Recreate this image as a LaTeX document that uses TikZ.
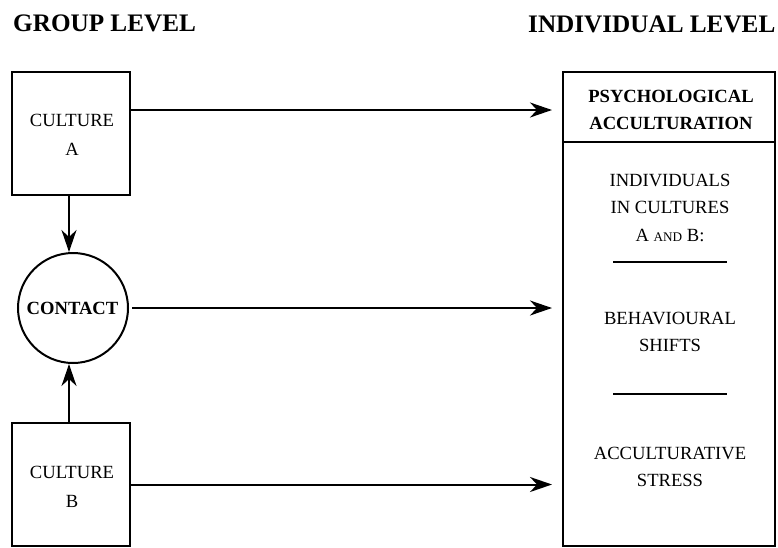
\documentclass[tikz,border=0pt]{standalone}
\usepackage{fontspec}
\setmainfont{Liberation Serif}
\usetikzlibrary{arrows.meta}
\begin{document}
\begin{tikzpicture}[x=1pt,y=-1pt,
  box/.style={draw,line width=2pt,inner sep=0pt},
  lbl/.style={align=center,inner sep=0pt,font=\fontsize{18.6}{29}\selectfont},
  blbl/.style={align=center,inner sep=0pt,font=\bfseries\fontsize{18.6}{27}\selectfont},
  title/.style={anchor=west,inner sep=0pt,font=\bfseries\fontsize{25.2}{25}\selectfont},
  arr/.style={line width=2pt,-{Stealth[length=22pt,width=15pt,inset=7pt]}},
  rule/.style={line width=2pt}]
\useasboundingbox (0,0) rectangle (778,547);
% titles
\node[title] (gl) at (13,23) {GROUP LEVEL};
\node[title] (il) at (528,24) {INDIVIDUAL LEVEL};
% left column
\node[box,minimum width=118pt,minimum height=123pt] (ca) at (71,133.5) {};
\node[lbl] (catext) at (72,134.5) {CULTURE\\A};
\node[draw,circle,line width=2pt,minimum size=110pt,inner sep=0pt] (ct) at (73,308) {};
\node[blbl] (cttext) at (72.5,308) {CONTACT};
\node[box,minimum width=118pt,minimum height=123pt] (cb) at (71,484.5) {};
\node[lbl] (cbtext) at (72,486.5) {CULTURE\\B};
% right column
\node[box,minimum width=212pt,minimum height=70pt] (psy) at (669,107) {};
\node[blbl] (psytext) at (671,109.5) {PSYCHOLOGICAL\\ACCULTURATION};
\node[box,minimum width=212pt,minimum height=404pt] (body) at (669,344) {};
\node[lbl,font=\fontsize{18.6}{27.5}\selectfont] (ind) at (670,207.5) {INDIVIDUALS\\IN CULTURES\\A {\fontsize{13.2}{13}\selectfont AND} B:};
\node[lbl,font=\fontsize{18.6}{27}\selectfont] (beh) at (670,331.5) {BEHAVIOURAL\\SHIFTS};
\node[lbl,font=\fontsize{18.6}{27}\selectfont] (str) at (670,466.5) {ACCULTURATIVE\\STRESS};
\coordinate (r1a) at (613,262);
\coordinate (r1b) at (727,262);
\coordinate (r2a) at (613,394);
\coordinate (r2b) at (727,394);
\draw[rule] (r1a) -- (r1b);
\draw[rule] (r2a) -- (r2b);
% connectors
\coordinate (ya) at (0,110);
\draw[arr] (ca.east |- ya) -- ([xshift=-10pt]psy.west |- ya);
\draw[arr,shorten <=3pt] (ct.east) -- ([xshift=-10pt]body.west |- ct.east);
\draw[arr] (cb.east) -- ([xshift=-10pt]body.west |- cb.east);
\draw[arr] ([xshift=-2pt]ca.south) -- ([xshift=-2pt]ca.south |- ct.north);
\draw[arr] ([xshift=-2pt]cb.north) -- ([xshift=-2pt]cb.north |- ct.south);
\end{tikzpicture}
\end{document}
